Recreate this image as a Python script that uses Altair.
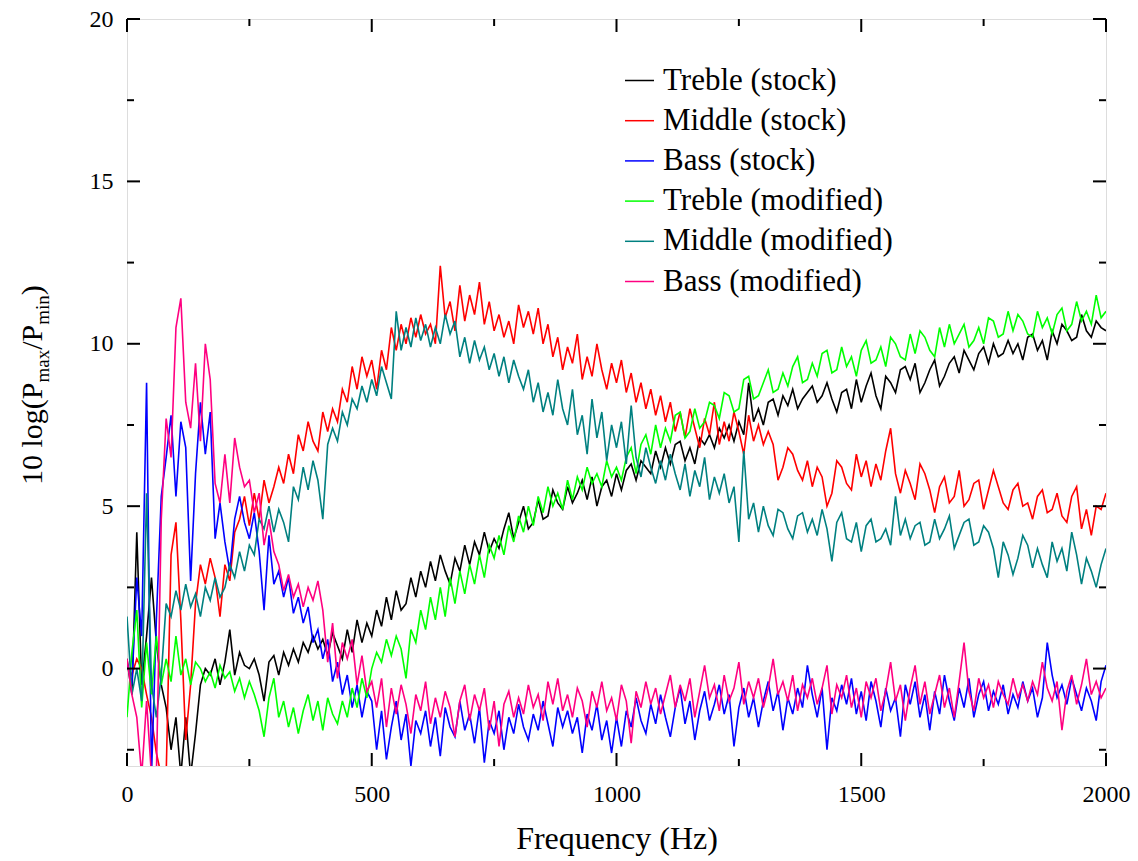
import altair as alt
import pandas as pd

SERIES = ["Treble (stock)", "Middle (stock)", "Bass (stock)",
          "Treble (modified)", "Middle (modified)", "Bass (modified)"]
COLORS = ["#000000", "#FF0000", "#0000FF", "#00FF00", "#008080", "#FF0080"]
STEP_HZ = 10

treble_stock = [
    0.3, -0.8, 4.2, -0.5, 1.0, 2.8, 0.8, -0.5, -1.2, -2.5,
    -1.5, -3.3, -1.5, -3.3, -2.0, -0.5, 0.0, -0.2, 0.3, -0.5,
    0.2, 1.2, -0.2, 0.5, 0.1, 0.0, 0.3, -0.2, -1.0, 0.2,
    0.4, -0.2, 0.5, 0.1, 0.6, 0.2, 0.8, 0.5, 1.0, 0.6,
    0.9, 0.4, 1.1, 0.7, 0.3, 1.2, 0.5, 1.5, 0.8, 1.4,
    1.0, 1.8, 1.3, 2.2, 1.5, 2.4, 1.8, 2.0, 2.8, 2.2,
    3.0, 2.5, 3.3, 2.7, 3.5, 3.0, 2.6, 3.4, 3.0, 3.8,
    3.2, 3.9, 3.5, 4.2, 3.6, 4.0, 3.7, 4.3, 4.8, 4.0,
    4.5, 5.0, 4.3, 4.5, 5.2, 4.6, 4.7, 5.5, 5.1, 4.9,
    5.6, 5.1, 5.4, 5.8, 5.2, 5.9, 5.0, 5.6, 5.8, 5.3,
    6.0, 5.5, 6.1, 6.3, 5.8, 6.4, 6.2, 6.0, 6.7, 6.2,
    6.8, 6.3, 6.9, 7.0, 6.4, 6.8, 6.3, 7.1, 6.9, 7.2,
    6.8, 7.4, 7.1, 7.5, 7.0, 7.6, 7.2, 8.8, 7.6, 8.0,
    7.5, 8.2, 8.3, 7.8, 8.4, 8.1, 8.6, 8.0, 8.3, 8.5,
    8.7, 8.2, 8.4, 8.8, 8.3, 7.9, 8.5, 8.6, 8.0, 8.9,
    8.2, 8.7, 9.1, 8.4, 8.0, 9.0, 8.8, 8.5, 9.2, 9.3,
    8.9, 9.4, 8.5, 8.8, 9.2, 9.5, 8.7, 9.0, 9.4, 9.6,
    9.1, 9.8, 9.5, 9.2, 9.7, 9.9, 9.4, 10.0, 9.6, 9.7,
    10.1, 9.7, 10.0, 9.5, 10.2, 10.3, 9.8, 10.1, 9.5, 10.4,
    10.0, 10.6, 10.4, 10.1, 10.2, 10.9, 10.4, 10.2, 10.7, 10.5,
    10.4,
]

middle_stock = [
    0.1, -0.2, 0.3, 0.0, -0.8, -1.5, -2.6, -3.3, -3.3, 3.5,
    4.5, 1.5, -2.2, -0.5, 2.0, 3.2, 2.6, 3.4, 2.8, 1.6,
    3.2, 2.7, 4.2, 4.6, 5.3, 4.4, 5.4, 4.6, 5.8, 5.1,
    5.6, 6.2, 5.7, 6.6, 6.0, 7.2, 6.7, 7.6, 7.0, 6.7,
    7.9, 7.3, 8.0, 7.6, 8.6, 8.2, 9.3, 8.6, 9.6, 9.0,
    9.5, 8.6, 9.8, 9.2, 10.5, 9.8, 10.6, 10.0, 10.8, 10.2,
    10.9, 10.3, 10.6, 10.0, 12.4, 10.8, 11.3, 10.4, 11.8, 10.7,
    11.5, 10.9, 11.9, 10.6, 11.3, 10.4, 10.9, 10.2, 10.7, 10.0,
    11.2, 10.5, 11.0, 10.3, 11.1, 10.0, 10.6, 9.6, 10.2, 9.2,
    9.9, 9.4, 10.3, 8.9, 9.6, 9.0, 10.0, 9.2, 8.6, 9.4,
    8.8, 9.5, 8.5, 9.1, 8.2, 8.8, 8.0, 8.6, 7.8, 8.4,
    7.6, 8.2, 7.3, 7.9, 7.1, 8.0, 7.4, 6.8, 7.7, 7.2,
    8.2, 6.9, 7.6, 7.0, 7.9, 7.3, 6.6, 7.8, 7.0, 7.5,
    6.9, 7.3, 6.9, 5.8, 6.2, 6.8, 6.6, 6.1, 5.8, 6.4,
    5.6, 6.2, 5.9, 5.0, 5.4, 6.4, 6.2, 5.7, 5.5, 6.6,
    5.9, 6.4, 5.6, 6.3, 5.8, 6.7, 7.4, 6.0, 5.4, 6.1,
    5.7, 5.2, 6.3, 6.0, 5.5, 4.8, 5.6, 5.9, 5.1, 5.3,
    6.1, 5.0, 5.2, 5.7, 5.8, 4.9, 5.5, 6.1, 5.6, 5.1,
    4.9, 5.5, 5.7, 5.0, 5.1, 4.6, 5.3, 5.5, 4.8, 4.9,
    5.4, 4.7, 4.5, 5.3, 5.6, 4.3, 4.9, 4.1, 5.0, 4.9,
    5.4,
]

bass_stock = [
    0.2, -0.5, 2.8, 1.0, 8.8, -3.3, 1.5, 5.3, 6.5, 7.8,
    5.3, 7.6, 6.8, 2.7, 6.0, 8.2, 6.6, 7.9, 4.0, 5.1,
    3.9, 3.0, 4.6, 5.3, 4.5, 4.0, 4.8, 3.6, 1.8, 4.1,
    2.6, 3.0, 2.2, 2.8, 1.7, 2.2, 1.4, 1.9, 0.8, 1.2,
    0.3, 0.9, -0.4, 0.2, -0.8, -0.2, -1.2, -0.5, -1.5, -0.7,
    -1.0, -2.5, -1.3, -2.8, -1.8, -1.0, -2.2, -1.4, -3.0, -1.6,
    -2.0, -1.3, -2.4, -1.5, -2.7, -1.2, -1.8, -2.1, -1.0, -1.9,
    -1.4, -2.3, -1.2, -2.9, -1.6, -2.0, -1.3, -2.5, -1.5, -2.0,
    -1.1, -1.8, -2.2, -1.4, -1.9, -1.0, -1.7, -2.4, -1.2, -1.8,
    -1.3, -2.0, -1.5, -2.6, -1.4, -1.9, -1.1, -2.2, -1.6, -2.6,
    -1.5, -2.4, -1.3, -1.8, -0.9, -1.6, -2.0, -1.1, -1.7, -0.8,
    -1.5, -2.1, -1.2, -0.6, -1.7, -1.0, -2.2, -1.3, -0.7, -1.6,
    -1.1, -0.5, -1.4, -0.8, -2.4, -1.2, -0.6, -1.5, -0.9, -1.8,
    -1.0, -0.4, -1.3, -0.7, -1.9, -0.9, -1.4, -0.6, -1.2, 0.1,
    -0.8, -1.5, -0.6, -2.5, -0.9, -1.3, -0.5, -1.1, -0.3, -1.4,
    -0.7, -1.6, -0.4, -1.0, -1.8, -0.6, -1.3, -0.9, -2.1, -0.5,
    -1.1, -0.4, -1.5, -0.8, -1.9, -0.7, -1.4, -0.2, -1.0, -1.6,
    -0.6, -1.2, -0.3, -1.5, -0.8, -0.4, -1.3, -0.7, -1.1, -0.5,
    -1.4, -0.8, -1.2, -0.4, -1.0, -0.6, -1.5, -0.9, 0.8, -0.2,
    -0.9, -0.5, -1.1, -0.3, -0.8, -1.3, -0.6, -1.0, -1.6, -0.4,
    0.1,
]

treble_modified = [
    -1.5, 0.5, 1.8, -1.2, 0.8, -0.8, 1.0, -0.5, 0.3, -0.4,
    1.0, -0.2, 0.3, -0.5, 0.2, 0.0, -0.4, -0.1, -0.6, 0.1,
    -0.3, -0.1, -0.7, -0.3, -0.9, -0.4, -0.8, -1.3, -2.1, -0.9,
    -0.3, -1.5, -1.0, -1.8, -1.2, -2.0, -1.3, -0.8, -1.6, -1.0,
    -1.9, -0.9, -1.4, -1.7, -1.0, -1.5, -0.6, -1.2, -0.3, -0.9,
    0.0, 0.5, 0.2, 0.9, 0.4, 1.0, 0.6, -0.3, 1.2, 0.8,
    1.8, 1.2, 2.2, 1.5, 2.5, 1.6, 2.8, 2.0, 3.0, 2.3,
    3.2, 2.6, 3.5, 2.8, 3.8, 3.4, 4.1, 3.5, 4.4, 3.9,
    4.7, 4.2, 5.0, 4.4, 5.3, 4.8, 5.6, 5.0, 5.4, 4.9,
    5.8, 5.2, 5.9, 5.5, 6.2, 5.7, 6.0, 5.6, 6.4, 5.9,
    6.2, 5.8, 6.5, 6.8, 6.0, 6.9, 7.2, 6.6, 7.5, 6.8,
    7.4, 7.0, 7.8, 7.9, 7.1, 7.3, 8.0, 7.4, 7.6, 8.2,
    8.1, 7.7, 8.5, 8.4, 7.9, 8.0, 8.9, 9.0, 8.3, 8.4,
    8.8, 9.2, 8.5, 8.6, 9.1, 8.7, 9.3, 9.6, 8.8, 8.9,
    9.4, 9.0, 9.7, 9.8, 9.1, 9.2, 9.9, 9.3, 9.6, 9.0,
    9.8, 10.1, 9.4, 9.5, 9.9, 9.3, 10.2, 10.0, 9.6, 9.5,
    10.3, 9.7, 10.4, 10.2, 9.8, 9.6, 10.5, 9.9, 10.6, 10.0,
    10.3, 10.6, 9.9, 10.1, 10.5, 10.0, 10.8, 10.7, 10.2, 10.3,
    11.0, 10.4, 10.9, 10.7, 10.3, 10.2, 11.0, 10.5, 10.8, 10.3,
    10.9, 11.1, 10.4, 10.6, 11.3, 10.7, 11.0, 10.6, 11.5, 10.8,
    11.0,
]

middle_modified = [
    1.6, -0.8, 0.0, -1.0, 5.4, -0.5, -1.5, -0.2, 2.0, 1.6,
    2.4, 1.8, 2.6, 1.9, 2.3, 1.6, 2.5, 2.1, 2.8, 2.2,
    2.5, 3.2, 2.8, 3.6, 3.0, 3.8, 3.5, 4.6, 4.3, 5.0,
    4.2, 4.9, 4.5, 3.9, 5.6, 5.2, 6.2, 5.5, 6.4, 5.8,
    4.6, 6.9, 7.4, 7.0, 7.9, 7.5, 8.3, 8.0, 8.7, 8.2,
    8.9, 8.4, 9.3, 8.8, 8.3, 11.0, 9.8, 10.5, 9.9, 10.8,
    10.1, 10.6, 9.9, 10.5, 10.0, 10.9, 10.3, 10.7, 9.6, 10.2,
    9.4, 10.1, 9.5, 9.9, 9.2, 9.7, 9.0, 9.6, 8.8, 9.5,
    9.0, 8.6, 9.2, 8.2, 8.8, 7.9, 8.5, 7.8, 8.9, 8.0,
    7.5, 8.6, 7.2, 7.8, 6.6, 8.3, 7.1, 7.9, 6.4, 7.5,
    6.8, 7.6, 6.3, 8.1, 6.5, 5.9, 6.8, 6.2, 5.7, 6.4,
    5.8, 6.6, 6.0, 5.5, 6.3, 5.3, 6.1, 5.6, 6.5, 5.2,
    5.9, 5.4, 6.0, 5.1, 5.6, 3.9, 6.7, 4.6, 5.1, 4.2,
    5.0, 4.4, 4.1, 4.9, 4.8, 4.3, 4.0, 4.7, 4.8, 4.2,
    4.6, 4.1, 4.9, 4.3, 3.3, 4.5, 4.8, 4.0, 3.9, 4.5,
    3.6, 4.4, 4.6, 3.9, 4.0, 4.3, 3.8, 5.3, 4.1, 4.6,
    4.0, 4.4, 4.5, 3.8, 3.9, 4.6, 4.0, 4.3, 4.7, 3.7,
    4.1, 4.5, 4.6, 3.8, 3.9, 4.4, 4.2, 3.7, 2.8, 3.9,
    3.5, 2.9, 3.4, 4.1, 3.8, 3.1, 3.7, 3.2, 2.8, 3.9,
    3.3, 3.7, 3.0, 4.2, 3.5, 2.6, 3.4, 3.0, 2.5, 3.2,
    3.7,
]

bass_modified = [
    0.3, -0.8, -1.5, -3.3, -1.0, -3.3, -3.3, 4.6, 7.7, 6.5,
    10.5, 11.4, 8.2, 7.4, 9.4, 7.0, 10.0, 8.9, 5.7, 5.1,
    6.6, 5.1, 7.1, 6.2, 5.6, 5.8, 4.8, 5.4, 3.8, 4.6,
    3.6, 3.2, 2.4, 2.9, 2.2, 2.6, 1.9, 2.5, 2.1, 2.7,
    1.8, 0.2, 1.4, -0.3, 0.8, 0.3, 0.9, -0.5, 0.4, -0.7,
    -0.4, -1.2, -0.3, -1.8, -0.6, -1.4, -0.5, -1.1, -2.0, -0.8,
    -1.3, -0.4, -1.7, -0.9, -1.5, -0.7, -1.2, -2.1, -1.0, -0.5,
    -1.6, -0.8, -1.3, -0.6, -1.9, -1.0, -2.4, -1.1, -0.7, -1.5,
    -0.9, -1.4, -0.5, -1.2, -0.8, -1.6, -0.4, -1.1, -0.3, -1.3,
    -0.8, -1.5, -0.6, -1.0, -1.8, -0.7, -1.2, -0.4, -1.3, -0.9,
    -1.6, -0.5, -1.0, -2.3, -0.7, -1.2, -0.4, -1.1, -0.6, -1.4,
    -0.8, -0.2, -1.2, -0.5, -1.0, -0.3, -1.5, -0.7, 0.1, -0.9,
    -0.5, -1.3, -0.2, -1.0, -0.6, 0.2, -1.1, -0.4, -0.9, -0.3,
    -1.2, -0.6, 0.3, -0.8, -0.4, -1.0, -0.2, -1.3, -0.5, -0.9,
    -0.3, -1.1, -0.6, 0.1, -1.4, -0.5, -0.9, -0.2, -1.2, -0.6,
    -1.5, -0.4, -0.9, -0.3, -1.3, -0.7, 0.2, -1.0, -0.5, -1.6,
    -0.6, 0.1, -1.1, -0.4, -1.4, -0.8, -0.2, -1.2, -0.6, -1.5,
    -0.4, 0.8, -0.7, -1.3, -0.3, -0.9, -0.5, -1.2, -0.4, -0.8,
    -1.1, -0.3, -0.9, -0.5, -1.0, -0.4, -0.8, 0.2, -0.6, -1.0,
    -0.4, -1.9, -0.7, -0.2, -1.1, -0.5, 0.3, -0.8, -0.4, -0.9,
    -0.6,
]

X_MAJOR = [0, 500, 1000, 1500, 2000]
X_MINOR = [250, 750, 1250, 1750]
Y_MAJOR = [0, 5, 10, 15, 20]
Y_MINOR = [-2.5, 2.5, 7.5, 12.5, 17.5]

FONT = "Liberation Serif"
W, H = 979, 747

rows = []
for name, vals in zip(SERIES, [treble_stock, middle_stock, bass_stock,
                               treble_modified, middle_modified, bass_modified]):
    for i, v in enumerate(vals):
        rows.append({"series": name, "freq": i * STEP_HZ, "value": v, "idx": i})
df = pd.DataFrame(rows)

xscale = alt.Scale(domain=[0, 2000], nice=False, zero=False)
yscale = alt.Scale(domain=[-3, 20], nice=False, zero=False)

lines = alt.Chart(df).mark_line(strokeWidth=1.6, clip=True).encode(
    x=alt.X("freq:Q", scale=xscale, title="Frequency (Hz)",
            axis=alt.Axis(values=X_MAJOR, ticks=False, domain=False, grid=False,
                          labelFont=FONT, labelFontSize=24, labelColor="black",
                          labelPadding=16, labelFlush=False, titleFont=FONT,
                          titleFontSize=32, titleFontWeight="normal",
                          titleColor="black", titlePadding=17, format="d")),
    y=alt.Y("value:Q", scale=yscale, title="",
            axis=alt.Axis(values=Y_MAJOR, ticks=False, domain=False, grid=False,
                          labelFont=FONT, labelFontSize=24, labelColor="black",
                          labelPadding=14, labelFlush=False, format="d")),
    color=alt.Color("series:N",
                    scale=alt.Scale(domain=SERIES, range=COLORS),
                    sort=SERIES,
                    legend=alt.Legend(title=None, orient="none", legendX=497, legendY=46,
                                      symbolType="stroke", symbolSize=841,
                                      symbolStrokeWidth=1.5, labelFont=FONT,
                                      labelFontSize=31, labelColor="black",
                                      labelLimit=500, rowPadding=8.2, labelOffset=8,
                                      padding=0)),
    order="idx:Q",
)

def xticks(vals, length, top):
    d = pd.DataFrame({"freq": vals})
    y0, y1 = (0, length) if top else (H, H - length)
    return alt.Chart(d).mark_rule(color="black", strokeWidth=2).encode(
        x=alt.X("freq:Q", scale=xscale), y=alt.value(y0), y2=alt.value(y1))

def yticks(vals, length, right):
    d = pd.DataFrame({"value": vals})
    x0, x1 = (W, W - length) if right else (0, length)
    return alt.Chart(d).mark_rule(color="black", strokeWidth=2).encode(
        y=alt.Y("value:Q", scale=yscale), x=alt.value(x0), x2=alt.value(x1))

tick_layers = [
    xticks(X_MAJOR, 13, False), xticks(X_MINOR, 7, False),
    xticks(X_MAJOR, 13, True), xticks(X_MINOR, 7, True),
    yticks(Y_MAJOR, 13, False), yticks(Y_MINOR, 7, False),
    yticks(Y_MAJOR, 13, True), yticks(Y_MINOR, 7, True),
]

# y-axis title with subscripts, built from rotated text pieces
TITLE_PARTS = ["10 log(P", "max", "/P", "min", ")"]
def title_piece(text, size, x, y):
    return alt.Chart(pd.DataFrame({"t": [text]})).mark_text(
        font=FONT, fontSize=size, angle=270, align="left", baseline="alphabetic",
        color="black").encode(text="t:N", x=alt.value(x), y=alt.value(y))

title_layers = [
    title_piece(TITLE_PARTS[0], 30, -85, 466),
    title_piece(TITLE_PARTS[1], 19, -78, 363.5),
    title_piece(TITLE_PARTS[2], 30, -85, 330.8),
    title_piece(TITLE_PARTS[3], 19, -78, 305.8),
    title_piece(TITLE_PARTS[4], 30, -85, 276.2),
]

chart = alt.layer(lines, *tick_layers, *title_layers).properties(
    width=W, height=H,
    autosize=alt.AutoSizeParams(type="none"),
    padding={"left": 127, "top": 19, "right": 32, "bottom": 95},
).configure_view(stroke="black", strokeWidth=2).configure(background="white")

chart.save("out.html", embed_options={"renderer": "svg", "actions": False})
